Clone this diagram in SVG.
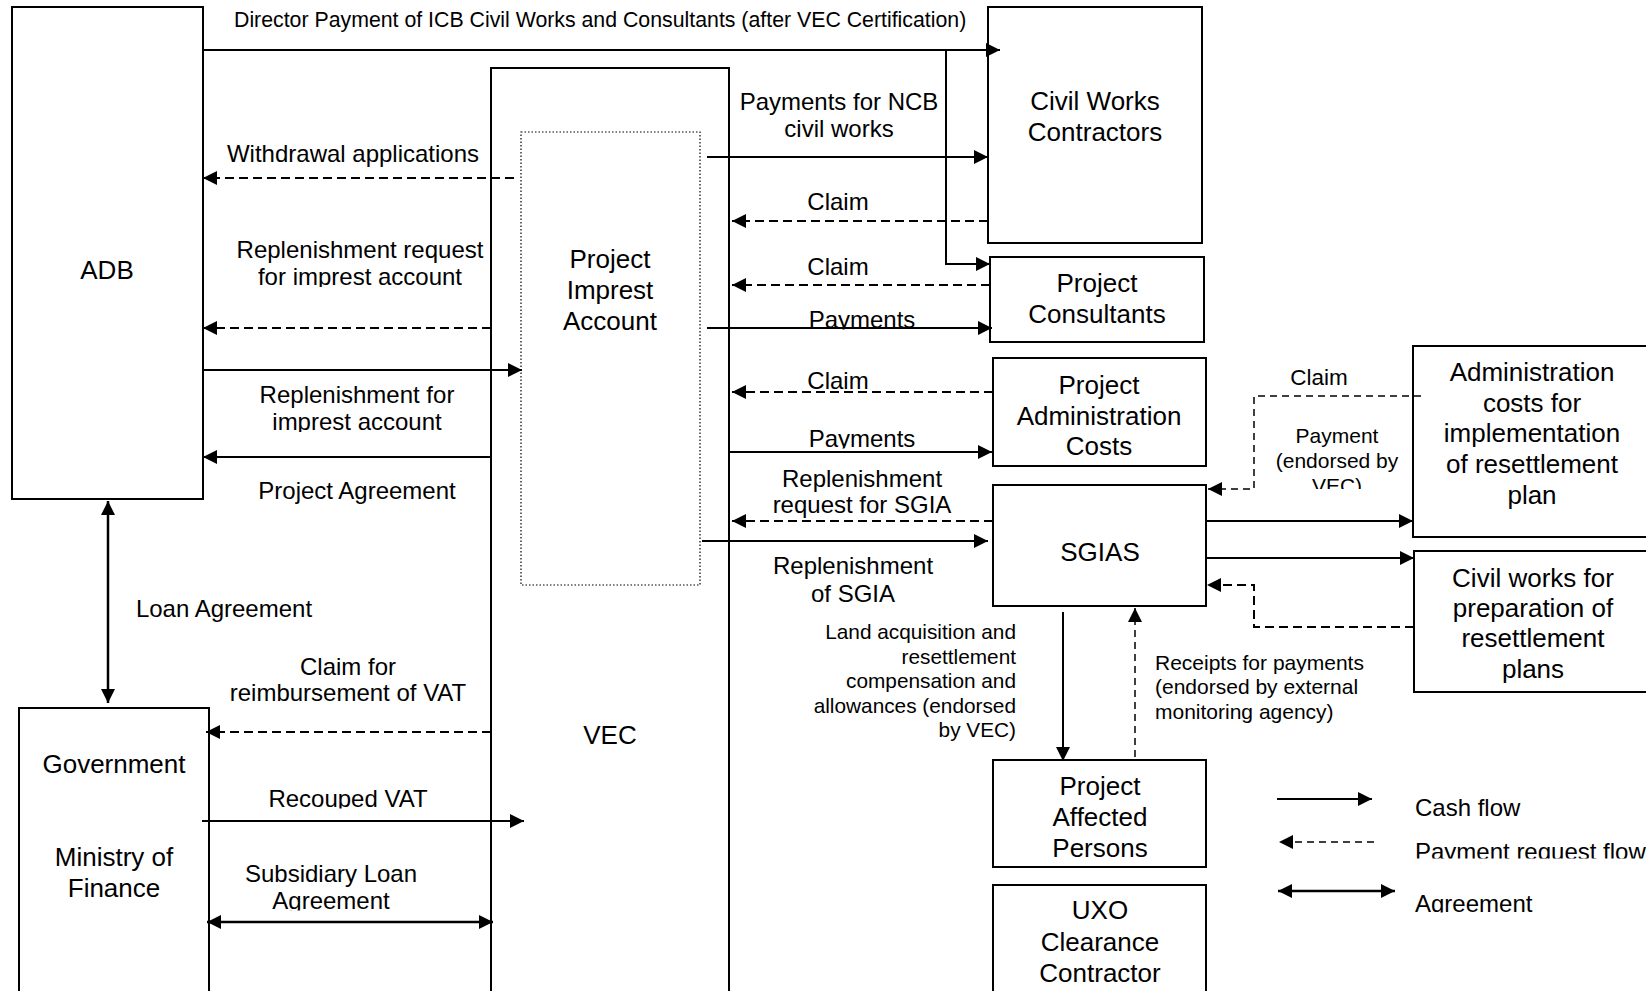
<svg xmlns="http://www.w3.org/2000/svg" width="1646" height="991" viewBox="0 0 1646 991">
<defs>
<style>
.box{fill:#fff;stroke:#000;stroke-width:2}
.dot{fill:none;stroke:#000;stroke-width:1.2;stroke-dasharray:1.5 2}
text{font-family:'Liberation Sans',Arial,sans-serif;fill:#000}
.n{font-size:26px;text-anchor:middle}
.l{font-size:24px;text-anchor:middle}
.ls{font-size:24px}
.t{font-size:21.3px}
.s{font-size:21px}
.sr{font-size:20.8px;text-anchor:end}
.sm{font-size:21px;text-anchor:middle}
.cash{fill:none;stroke:#000;stroke-width:2;marker-end:url(#ah)}
.req{fill:none;stroke:#000;stroke-width:2;stroke-dasharray:9 5;marker-end:url(#ah)}
.reqt{fill:none;stroke:#000;stroke-width:1.5;stroke-dasharray:7 5;marker-end:url(#ah)}
.agr{fill:none;stroke:#000;stroke-width:2.5;marker-start:url(#ah);marker-end:url(#ah)}
</style>
<marker id="ah" markerUnits="userSpaceOnUse" markerWidth="15" markerHeight="15" refX="14" refY="7" orient="auto-start-reverse" viewBox="0 0 15 14"><path d="M0,0 L14,7 L0,14 z" fill="#000"/></marker>
<clipPath id="cImp"><rect x="0" y="0" width="1646" height="432"/></clipPath>
<clipPath id="cReq"><rect x="0" y="0" width="1646" height="287"/></clipPath>
<clipPath id="cPay1"><rect x="0" y="0" width="1646" height="329.5"/></clipPath>
<clipPath id="cPay2"><rect x="0" y="0" width="1646" height="448.5"/></clipPath>
<clipPath id="cRec"><rect x="0" y="0" width="1646" height="808.5"/></clipPath>
<clipPath id="cSub"><rect x="0" y="0" width="1646" height="910.5"/></clipPath>
<clipPath id="cVEC"><rect x="0" y="0" width="1646" height="489"/></clipPath>
<clipPath id="cLeg1"><rect x="0" y="0" width="1646" height="858.5"/></clipPath>
<clipPath id="cLeg2"><rect x="0" y="0" width="1646" height="912.5"/></clipPath>
</defs>
<rect x="0" y="0" width="1646" height="991" fill="#fff"/>

<g id="adb"><rect class="box" x="12" y="7" width="191" height="492"/><text class="n" x="107" y="279">ADB</text></g>
<g id="government"><rect class="box" x="19" y="708" width="190" height="320"/><text class="n" x="114" y="773">Government</text><text class="n" x="114" y="866">Ministry of</text><text class="n" x="114" y="897">Finance</text></g>
<g id="vec"><rect class="box" x="491" y="68" width="238" height="960"/><text class="n" x="610" y="744">VEC</text></g>
<g id="imprest"><rect class="dot" x="521" y="132" width="179" height="453"/><text class="n" x="610" y="268">Project</text><text class="n" x="610" y="299">Imprest</text><text class="n" x="610" y="330">Account</text></g>
<g id="civilworks"><rect class="box" x="988" y="7" width="214" height="236"/><text class="n" x="1095" y="110">Civil Works</text><text class="n" x="1095" y="141">Contractors</text></g>
<g id="consultants"><rect class="box" x="990" y="257" width="214" height="85"/><text class="n" x="1097" y="292">Project</text><text class="n" x="1097" y="323">Consultants</text></g>
<g id="admincosts"><rect class="box" x="993" y="358" width="213" height="108"/><text class="n" x="1099" y="394">Project</text><text class="n" x="1099" y="425">Administration</text><text class="n" x="1099" y="455">Costs</text></g>
<g id="sgias"><rect class="box" x="993" y="485" width="213" height="121"/><text class="n" x="1100" y="561">SGIAS</text></g>
<g id="pap"><rect class="box" x="993" y="760" width="213" height="107"/><text class="n" x="1100" y="795">Project</text><text class="n" x="1100" y="826">Affected</text><text class="n" x="1100" y="857">Persons</text></g>
<g id="uxo"><rect class="box" x="993" y="885" width="213" height="150"/><text class="n" x="1100" y="919">UXO</text><text class="n" x="1100" y="951">Clearance</text><text class="n" x="1100" y="982">Contractor</text></g>
<g id="resettleadmin"><rect class="box" x="1413" y="346" width="260" height="191"/><text class="n" x="1532" y="381">Administration</text><text class="n" x="1532" y="412">costs for</text><text class="n" x="1532" y="442">implementation</text><text class="n" x="1532" y="473">of resettlement</text><text class="n" x="1532" y="504">plan</text></g>
<g id="resettlecivil"><rect class="box" x="1414" y="551" width="260" height="141"/><text class="n" x="1533" y="587">Civil works for</text><text class="n" x="1533" y="617">preparation of</text><text class="n" x="1533" y="647">resettlement</text><text class="n" x="1533" y="678">plans</text></g>

<g id="connectors">
<path class="cash" d="M203,50 H1000"/>
<path class="cash" d="M946,50 V264 H990"/>
<path class="req" d="M514,178 H203"/>
<path class="req" d="M491,328 H203"/>
<path class="cash" d="M203,370 H522"/>
<path class="cash" d="M491,457 H203"/>
<path class="agr" d="M108,501 V703"/>
<path class="req" d="M491,732 H206"/>
<path class="cash" d="M202,821 H524"/>
<path class="agr" d="M207,922 H493"/>
<path class="cash" d="M707,157 H988"/>
<path class="req" d="M988,221 H732"/>
<path class="req" d="M990,285 H732"/>
<path class="cash" d="M707,328 H992"/>
<path class="req" d="M993,392 H732"/>
<path class="cash" d="M729,452 H992"/>
<path class="req" d="M993,521 H732"/>
<path class="cash" d="M702,541 H988"/>
<path class="cash" d="M1063,612 V761"/>
<path class="reqt" d="M1135,757 V608"/>
<path class="cash" d="M1206,521 H1413"/>
<path class="cash" d="M1206,558 H1414"/>
<path class="req" d="M1414,627 H1254 V585 H1207"/>
<path class="reqt" d="M1421,396 H1254 V489 H1208"/>
</g>

<g id="labels">
<text class="t" x="234" y="27">Director Payment of ICB Civil Works and Consultants (after VEC Certification)</text>
<text class="l" x="353" y="162">Withdrawal applications</text>
<text class="l" x="360" y="258">Replenishment request</text>
<text class="l" x="360" y="285" clip-path="url(#cReq)">for imprest account</text>
<text class="l" x="357" y="403">Replenishment for</text>
<text class="l" x="357" y="430" clip-path="url(#cImp)">imprest account</text>
<text class="l" x="357" y="499">Project Agreement</text>
<text class="l" x="224" y="617">Loan Agreement</text>
<text class="l" x="348" y="675">Claim for</text>
<text class="l" x="348" y="701">reimbursement of VAT</text>
<text class="l" x="348" y="807" clip-path="url(#cRec)">Recouped VAT</text>
<text class="l" x="331" y="882">Subsidiary Loan</text>
<text class="l" x="331" y="909" clip-path="url(#cSub)">Agreement</text>
<text class="l" x="839" y="110">Payments for NCB</text>
<text class="l" x="839" y="137">civil works</text>
<text class="l" x="838" y="210">Claim</text>
<text class="l" x="838" y="275">Claim</text>
<text class="l" x="862" y="328" clip-path="url(#cPay1)">Payments</text>
<text class="l" x="838" y="389">Claim</text>
<text class="l" x="862" y="447" clip-path="url(#cPay2)">Payments</text>
<text class="l" x="862" y="487">Replenishment</text>
<text class="l" x="862" y="513">request for SGIA</text>
<text class="l" x="853" y="574">Replenishment</text>
<text class="l" x="853" y="602">of SGIA</text>
<text class="sr" x="1016" y="639">Land acquisition and</text>
<text class="sr" x="1016" y="664">resettlement</text>
<text class="sr" x="1016" y="688">compensation and</text>
<text class="sr" x="1016" y="713">allowances (endorsed</text>
<text class="sr" x="1016" y="737">by VEC)</text>
<text class="s" x="1155" y="670">Receipts for payments</text>
<text class="s" x="1155" y="694">(endorsed by external</text>
<text class="s" x="1155" y="719">monitoring agency)</text>
<text class="l" x="1319" y="385" style="font-size:22.5px">Claim</text>
<text class="sm" x="1337" y="443">Payment</text>
<text class="sm" x="1337" y="468">(endorsed by</text>
<text class="sm" x="1337" y="493" clip-path="url(#cVEC)">VEC)</text>
</g>

<g id="legend">
<path class="cash" d="M1277,799 H1372"/>
<path class="reqt" d="M1374,842 H1279"/>
<path class="agr" d="M1278,891 H1395"/>
<text class="ls" x="1415" y="816">Cash flow</text>
<text class="ls" x="1415" y="860" clip-path="url(#cLeg1)">Payment request flow</text>
<text class="ls" x="1415" y="912" clip-path="url(#cLeg2)">Agreement</text>
</g>
</svg>
